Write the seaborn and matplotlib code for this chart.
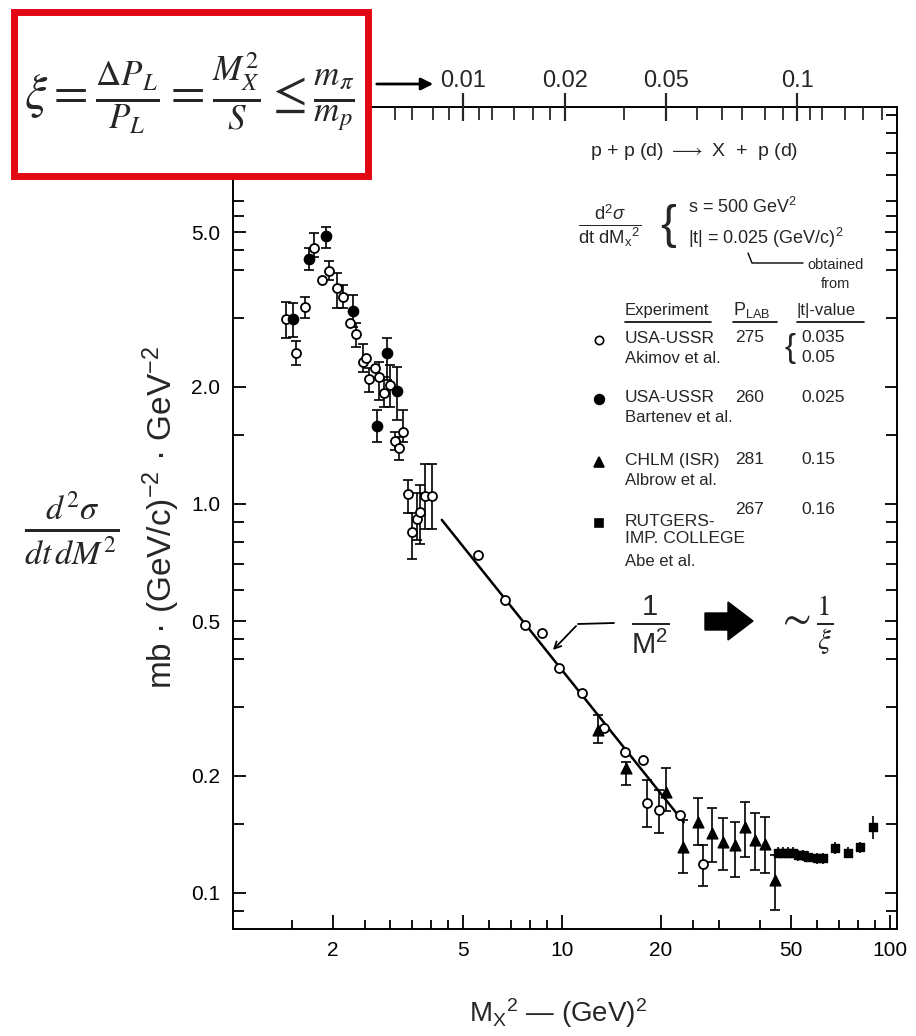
import matplotlib
matplotlib.use("Agg")
import matplotlib.pyplot as plt
import matplotlib.ticker as mticker
from matplotlib.patches import Rectangle, Polygon, FancyArrowPatch
from matplotlib.lines import Line2D
import seaborn as sns

# d2sigma/dt dM^2 vs M_X^2
# USA-USSR, Akimov et al. (open circles)
akimov_m2 = [1.44, 1.55, 1.65, 1.75, 1.85, 1.95, 2.06, 2.15, 2.26, 2.36, 2.47, 2.52, 2.58,
             2.69, 2.77, 2.86, 2.98, 3.10, 3.19, 3.28, 3.39, 3.48, 3.61, 3.69, 3.82, 4.01,
             5.56, 6.70, 7.71, 8.71, 9.81, 11.5, 13.4, 15.6, 17.7, 18.1, 19.8, 22.9, 26.9]
akimov_val = [2.98, 2.44, 3.20, 4.56, 3.77, 3.97, 3.58, 3.41, 2.91, 2.74, 2.31, 2.37, 2.10,
              2.23, 2.12, 1.93, 2.02, 1.45, 1.39, 1.53, 1.06, 0.849, 0.913, 0.952, 1.05, 1.05,
              0.739, 0.567, 0.489, 0.467, 0.378, 0.326, 0.265, 0.230, 0.220, 0.170, 0.163, 0.159, 0.119]
akimov_lo = [2.67, 2.28, 3.01, 4.32, 3.77, 3.77, 3.19, 3.19, 2.91, 2.53, 2.18, 2.37, 1.94,
             2.23, 1.85, 1.78, 1.78, 1.38, 1.30, 1.44, 0.95, 0.72, 0.81, 0.79, 0.86, 0.86,
             0.739, 0.567, 0.489, 0.467, 0.378, 0.326, 0.265, 0.230, 0.220, 0.148, 0.143, 0.159, 0.104]
akimov_hi = [3.31, 2.62, 3.40, 4.97, 3.77, 4.21, 3.92, 3.66, 2.91, 2.92, 2.58, 2.37, 2.24,
             2.23, 2.32, 2.12, 2.28, 1.53, 1.49, 1.74, 1.15, 0.95, 1.07, 1.12, 1.27, 1.27,
             0.739, 0.567, 0.489, 0.467, 0.378, 0.326, 0.265, 0.230, 0.220, 0.195, 0.184, 0.159, 0.133]

# USA-USSR, Bartenev et al. (filled circles)
bartenev_m2 = [1.51, 1.69, 1.91, 2.31, 2.72, 2.92, 3.15]
bartenev_val = [2.98, 4.27, 4.89, 3.13, 1.59, 2.45, 1.95]
bartenev_lo = [2.69, 4.00, 4.55, 2.85, 1.44, 2.08, 1.64]
bartenev_hi = [3.29, 4.55, 5.15, 3.45, 1.74, 2.67, 2.25]

# CHLM (ISR), Albrow et al. (triangles)
albrow_m2 = [12.9, 15.7, 20.7, 23.3, 26.0, 28.6, 31.0, 33.7, 36.1, 38.8, 41.6, 44.6]
albrow_val = [0.262, 0.209, 0.182, 0.1315, 0.1525, 0.143, 0.1355, 0.133, 0.148, 0.137, 0.134, 0.108]
albrow_lo = [0.243, 0.190, 0.162, 0.1125, 0.133, 0.120, 0.1146, 0.110, 0.124, 0.1146, 0.1125, 0.0904]
albrow_hi = [0.287, 0.217, 0.210, 0.154, 0.175, 0.165, 0.156, 0.152, 0.171, 0.1605, 0.157, 0.125]

# Rutgers - Imp. College, Abe et al. (squares)
rutgers_m2 = [45.6, 47.2, 48.9, 50.6, 52.4, 54.3, 56.3, 59.9, 62.5, 67.9, 74.4, 81.0, 88.7]
rutgers_val = [0.127, 0.127, 0.127, 0.127, 0.125, 0.125, 0.124, 0.123, 0.123, 0.1305, 0.127, 0.131, 0.148]
rutgers_lo = [0.123, 0.123, 0.123, 0.123, 0.121, 0.121, 0.120, 0.119, 0.119, 0.126, 0.123, 0.127, 0.138]
rutgers_hi = [0.131, 0.131, 0.131, 0.131, 0.129, 0.129, 0.128, 0.127, 0.127, 0.135, 0.131, 0.135, 0.158]

# the drawn 1/M^2 line (end points)
fit_m2 = [4.3, 23.5]
fit_val = [0.91, 0.152]

x_ticks = [2, 5, 10, 20, 50, 100]
x_ticklabels = ['2', '5', '10', '20', '50', '100']
x_minor = [1.5, 2.5, 3, 3.5, 4, 4.5, 6, 7, 8, 9, 25, 30, 40, 60, 70, 80, 90]
y_ticks = [0.1, 0.2, 0.5, 1.0, 2.0, 5.0]
y_ticklabels = ['0.1', '0.2', '0.5', '1.0', '2.0', '5.0']
y_minor = [0.09, 0.15, 0.3, 0.4, 0.45, 0.6, 0.7, 0.8, 0.9, 1.5, 3, 4, 4.5, 5.5, 6, 7, 8, 9, 10]

# top scale xi = M^2 / s, ticks where they are drawn (given in M^2)
xi_ticks_m2 = [5.0, 10.2, 20.8, 52.1]
xi_ticklabels = ['0.01', '0.02', '0.05', '0.1']
xi_minor_m2 = [3.1, 3.5, 4.04, 4.52, 5.58, 6.12, 7.14, 8.16, 9.19, 15.5, 25.8, 30.7, 35.4,
               41.6, 47.2, 57.0, 62.1, 72.9, 82.7, 94.5]

# legend table
exp_names = ['USA-USSR', 'USA-USSR', 'CHLM (ISR)', 'RUTGERS-\nIMP. COLLEGE']
exp_authors = ['Akimov et al.', 'Bartenev et al.', 'Albrow et al.', 'Abe et al.']
exp_plab = ['275', '260', '281', '267']
exp_tvalue = ['0.035\n0.05', '0.025', '0.15', '0.16']

sns.set_style('ticks')
plt.rcParams['font.family'] = ['Liberation Sans', 'DejaVu Sans']
plt.rcParams['mathtext.fontset'] = 'custom'
plt.rcParams['mathtext.rm'] = 'Liberation Sans'
plt.rcParams['mathtext.it'] = 'Liberation Sans:italic'
plt.rcParams['mathtext.bf'] = 'Liberation Sans:bold'

W, H = 916, 1036
fig = plt.figure(figsize=(W / 100, H / 100), dpi=100)
ax = fig.add_axes([232.7 / W, 1 - 929 / H, (897 - 232.7) / W, (929 - 107) / H])


def ftext(x, y, s, **kw):
    # place text by pixel position on the page
    return fig.text(x / W, 1 - y / H, s, **kw)


def fline(xs, ys, **kw):
    fig.add_artist(Line2D([x / W for x in xs], [1 - y / H for y in ys],
                          transform=fig.transFigure, **kw))


def errbars(m2, val, lo, hi, cap=3.5):
    rows = [(m, v, l, h) for m, v, l, h in zip(m2, val, lo, hi) if h > l]
    ax.errorbar([r[0] for r in rows], [r[1] for r in rows],
                yerr=[[r[1] - r[2] for r in rows], [r[3] - r[1] for r in rows]],
                fmt='none', ecolor='black', elinewidth=1.2, capsize=cap, capthick=1.2, zorder=2)


errbars(akimov_m2, akimov_val, akimov_lo, akimov_hi)
errbars(bartenev_m2, bartenev_val, bartenev_lo, bartenev_hi)
errbars(albrow_m2, albrow_val, albrow_lo, albrow_hi)
errbars(rutgers_m2, rutgers_val, rutgers_lo, rutgers_hi, cap=0)

sns.lineplot(x=fit_m2, y=fit_val, ax=ax, color='black', lw=1.8, zorder=1)
sns.scatterplot(x=akimov_m2, y=akimov_val, ax=ax, marker='o', s=42, color='white',
                edgecolor='black', linewidth=1.3, zorder=3)
sns.scatterplot(x=bartenev_m2, y=bartenev_val, ax=ax, marker='o', s=55, color='black',
                edgecolor='black', linewidth=1, zorder=3)
sns.scatterplot(x=albrow_m2, y=albrow_val, ax=ax, marker='^', s=60, color='black',
                edgecolor='black', linewidth=1, zorder=3)
sns.scatterplot(x=rutgers_m2, y=rutgers_val, ax=ax, marker='s', s=26, color='black',
                edgecolor='black', linewidth=1, zorder=3)

ax.set_xscale('log')
ax.set_yscale('log')
ax.set_xlim(0.991, 105)
ax.set_ylim(0.0808, 10.48)

ax.xaxis.set_major_locator(mticker.FixedLocator(x_ticks))
ax.xaxis.set_major_formatter(mticker.FixedFormatter(x_ticklabels))
ax.xaxis.set_minor_locator(mticker.FixedLocator(x_minor))
ax.xaxis.set_minor_formatter(mticker.NullFormatter())
ax.yaxis.set_major_locator(mticker.FixedLocator(y_ticks))
ax.yaxis.set_major_formatter(mticker.FixedFormatter(y_ticklabels))
ax.yaxis.set_minor_locator(mticker.FixedLocator(y_minor))
ax.yaxis.set_minor_formatter(mticker.NullFormatter())

ax.tick_params(which='both', direction='in', right=True, top=False, width=1.3, colors='black')
ax.tick_params(axis='x', which='major', length=10, pad=9, labelsize=15)
ax.tick_params(axis='x', which='minor', length=6.5)
ax.tick_params(axis='y', which='major', length=9, pad=9, labelsize=15)
ax.tick_params(axis='y', which='minor', length=8)
for sp in ax.spines.values():
    sp.set_linewidth(1.4)
    sp.set_color('black')

ax.set_ylabel('mb · (GeV/c)$^{-2}$ · GeV$^{-2}$', fontsize=24)
ax.yaxis.set_label_coords((182 - 232.7) / 664.3, 0.5)
ax.set_xlabel('M$_{\\mathrm{X}}$$^2$ — (GeV)$^2$', fontsize=20)
ax.xaxis.set_label_coords(0.49, -(996 - 929) / 822)

# top xi scale
ax2 = ax.twiny()
ax2.set_xscale('log')
ax2.set_xlim(ax.get_xlim())
ax2.xaxis.set_major_locator(mticker.FixedLocator(xi_ticks_m2))
ax2.xaxis.set_major_formatter(mticker.FixedFormatter(xi_ticklabels))
ax2.xaxis.set_minor_locator(mticker.FixedLocator(xi_minor_m2))
ax2.xaxis.set_minor_formatter(mticker.NullFormatter())
ax2.tick_params(axis='x', which='major', direction='inout', length=20, width=1.6, pad=1, labelsize=17)
ax2.tick_params(axis='x', which='minor', direction='in', length=9.5, width=1.3)
for sp in ax2.spines.values():
    sp.set_visible(False)

# reaction and legend block
ftext(590, 152, 'p + p (d) $\\longrightarrow$ X  +  p (d)', fontsize=14, va='center')
ftext(610, 226, '$\\frac{\\mathrm{d}^2\\sigma}{\\mathrm{dt\\ dM_x}^2}$', fontsize=19,
      ha='center', va='center')
ftext(668, 226, '{', fontsize=34, ha='center', va='center', fontweight='light')
ftext(688, 207, 's = 500 GeV$^2$', fontsize=13, va='center')
ftext(688, 238, '|t| = 0.025 (GeV/c)$^2$', fontsize=13, va='center')
fline([748, 752, 803], [253, 263, 263], color='black', lw=1.0)
ftext(836, 265, 'obtained', fontsize=10.5, ha='center', va='center')
ftext(836, 284, 'from', fontsize=10.5, ha='center', va='center')

ftext(625, 310, 'Experiment', fontsize=12, va='center')
ftext(733, 310, 'P$_{\\mathrm{LAB}}$', fontsize=13, va='center')
ftext(797, 310, '|t|-value', fontsize=12, va='center')
fline([625, 711], [322, 322], color='black', lw=1.2)
fline([733, 777], [322, 322], color='black', lw=1.2)
fline([797, 864], [322, 322], color='black', lw=1.2)

row_y = [340, 399, 462, 523]
row_marker = [('o', 'white', 6), ('o', 'black', 7), ('^', 'black', 7), ('s', 'black', 6)]
for i in range(4):
    y = row_y[i]
    mk, fc, ms = row_marker[i]
    fline([599], [y], marker=mk, markersize=ms, markerfacecolor=fc,
          markeredgecolor='black', markeredgewidth=1.2, linestyle='none')
    nlines = exp_names[i].count('\n') + 1
    ftext(625, y - 9, exp_names[i], fontsize=12.5, va='top', linespacing=1.15)
    ftext(625, y - 9 + 20 * nlines, exp_authors[i], fontsize=12, va='top')
    py = y - 2 if i < 3 else y - 14
    ftext(735, py, exp_plab[i], fontsize=12.5, va='center')
    ftext(801, py, exp_tvalue[i].split('\n')[0], fontsize=12.5, va='center')
ftext(801, 358, exp_tvalue[0].split('\n')[1], fontsize=12.5, va='center')
ftext(790, 349, '{', fontsize=24, ha='center', va='center', fontweight='light')

# 1/M^2 note and arrows
ftext(650, 625, '$\\frac{1}{\\mathrm{M}^2}$', fontsize=30, ha='center', va='center')
fline([614, 578], [623, 624], color='black', lw=1.3)
fig.add_artist(FancyArrowPatch((578 / W, 1 - 624 / H), (551 / W, 1 - 652 / H),
                               transform=fig.transFigure, arrowstyle='->',
                               mutation_scale=12, lw=1.3, color='black'))
arrow_px = [(705, 613), (728, 613), (728, 602), (753, 621), (728, 640), (728, 630), (705, 630)]
fig.add_artist(Polygon([(x / W, 1 - y / H) for x, y in arrow_px], closed=True,
                       transform=fig.transFigure, facecolor='black', edgecolor='black'))
ftext(805, 626, '$\\sim\\frac{1}{\\xi}$', fontsize=30, ha='center', va='center',
      math_fontfamily='stix')

# red box with definition of xi
fig.add_artist(Rectangle((14 / W, 1 - 176 / H), 354 / W, 164 / H, transform=fig.transFigure,
                         facecolor='white', edgecolor='#e30613', lw=5, zorder=10))
ftext(189, 93, '$\\xi = \\frac{\\Delta P_L}{P_L} = \\frac{M_X^2}{S} \\leq \\frac{m_\\pi}{m_p}$',
      fontsize=36, ha='center', va='center', math_fontfamily='stix', zorder=11)
fig.add_artist(FancyArrowPatch((374 / W, 1 - 84 / H), (436 / W, 1 - 84 / H),
                               transform=fig.transFigure, arrowstyle='-|>',
                               mutation_scale=18, lw=2, color='black', zorder=11))

# big label on the left
ftext(72, 528, '$\\frac{d^2\\sigma}{dt\\,dM^2}$', fontsize=35, ha='center', va='center',
      math_fontfamily='stix')

fig.savefig('out.png', dpi=100)
